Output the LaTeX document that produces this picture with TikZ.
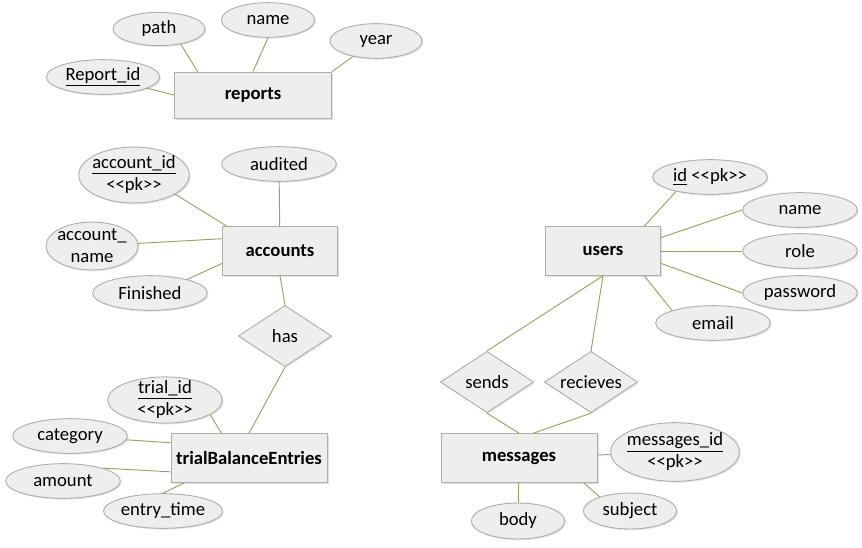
\documentclass[tikz,border=0pt]{standalone}
\usepackage{fontspec}
\setmainfont{Carlito}
\usepackage{tikz}
\usetikzlibrary{shapes.geometric,shadows}
\definecolor{erline}{RGB}{155,160,95}
\definecolor{erfill}{RGB}{238,238,238}
\definecolor{erborder}{RGB}{175,175,170}
\newcommand{\pk}{<\kern0pt<pk>\kern0pt>}

\begin{document}
\begin{tikzpicture}[x=0.75pt, y=-0.75pt,
    every node/.style={font=\fontsize{14}{16.5}\selectfont},
    entity/.style={draw=erborder, line width=0.7pt, fill=erfill, minimum height=36.5pt,
        font=\fontsize{14}{16.5}\selectfont\bfseries,
        drop shadow={shadow xshift=1.2pt, shadow yshift=-1.2pt, opacity=0.25}},
    attr/.style={draw=erborder, line width=0.7pt, fill=erfill, ellipse, inner sep=0pt,
        minimum width=86pt, minimum height=26pt, align=center,
        drop shadow={shadow xshift=1pt, shadow yshift=-1pt, opacity=0.2}},
    twoline/.style={attr, inner sep=-2pt},
    relation/.style={draw=erborder, line width=0.7pt, fill=erfill, diamond, aspect=1.5,
        inner sep=0pt, minimum width=70pt, minimum height=46pt,
        drop shadow={shadow xshift=1pt, shadow yshift=-1pt, opacity=0.2}},
    link/.style={draw=erline, line width=0.7pt}]
    \useasboundingbox (0,0) rectangle (862,547);

    % Reports
    \node[entity, minimum width=118pt, minimum height=34.5pt] (reports) at (253,95) {reports};
    \node[attr, minimum width=85pt] (rid) at (103,77) {\underline{Report\_id}};
    \node[attr, minimum width=69pt, minimum height=25pt] (rpath) at (159,29) {path};
    \node[attr, minimum width=70pt] (rname) at (268,20) {name};
    \node[attr, minimum width=69pt] (ryear) at (376,41) {year};

    % Accounts
    \node[entity, minimum width=86pt] (accounts) at (280,251) {accounts};
    \node[twoline, minimum width=80pt, minimum height=42pt] (aid) at (134,175) {\underline{account\_id}\\\pk};
    \node[attr] (audited) at (279,164) {audited};
    \node[twoline, minimum width=69pt, minimum height=36pt] (aname) at (92,246) {account\_\\name};
    \node[attr] (finished) at (150,293) {Finished};
    \node[relation] (has) at (285,336) {has};

    % Trial balance entries
    \node[entity, minimum width=117pt] (tbe) at (249,458) {trialBalanceEntries};
    \node[twoline, minimum height=34.5pt] (tid) at (165,400) {\underline{trial\_id}\\\pk};
    \node[attr] (category) at (70,436) {category};
    \node[attr] (amount) at (63,481) {amount};
    \node[attr] (etime) at (163,511) {entry\_time};

    % Users
    \node[entity, minimum width=86pt] (users) at (603,251) {users};
    \node[attr] (uid) at (710,177) {\underline{id} \pk};
    \node[attr] (uname) at (800,210) {name};
    \node[attr] (urole) at (800,251) {role};
    \node[attr] (upass) at (800,293) {password};
    \node[attr] (uemail) at (713,323) {email};

    % Messages
    \node[relation] (sends) at (487,382) {sends};
    \node[relation] (recieves) at (591,382) {recieves};
    \node[entity, minimum width=117pt] (messages) at (519,458) {messages};
    \node[twoline, minimum width=94pt, minimum height=44pt] (mid) at (675,452) {\underline{messages\_id}\\\pk};
    \node[attr, minimum width=70pt, minimum height=27pt] (body) at (518,521) {body};
    \node[attr, minimum width=70pt, minimum height=27pt] (subject) at (630,511) {subject};

    % Connections
    \draw[link] (rid) -- (reports.west);
    \draw[link] (rpath.-35) -- (reports.157);
    \draw[link] (rname.south) -- (reports.north);
    \draw[link] (ryear.-146) -- (reports.north east);
    \draw[link] (aid.-25) -- (accounts.155);
    \draw[link] (audited) -- (accounts);
    \draw[link] (aname) -- (accounts.168);
    \draw[link] (finished.20) -- (accounts.-168);
    \draw[link] (accounts.south) -- (has.north);
    \draw[link] (has.south) -- (tbe.north);
    \draw[link] (tid.-18) -- (tbe.138);
    \draw[link] (category) -- (tbe.169);
    \draw[link] (amount.18) -- (tbe.-170);
    \draw[link] (etime.north) -- (tbe.-159);
    \draw[link] (uid.-157) -- (users.31);
    \draw[link] (uname.west) -- (users.13);
    \draw[link] (urole) -- (users);
    \draw[link] (upass.west) -- (users.-12);
    \draw[link] (uemail.163) -- (users.-31);
    \draw[link] (users.south) -- (sends.north);
    \draw[link] (users.south) -- (recieves.north);
    \draw[link] (sends.south) -- (messages.north);
    \draw[link] (recieves.south) -- (messages.60);
    \draw[link] (mid) -- (messages);
    \draw[link] (body) -- (messages);
    \draw[link] (subject.155) -- (messages.-21);
\end{tikzpicture}
\end{document}
